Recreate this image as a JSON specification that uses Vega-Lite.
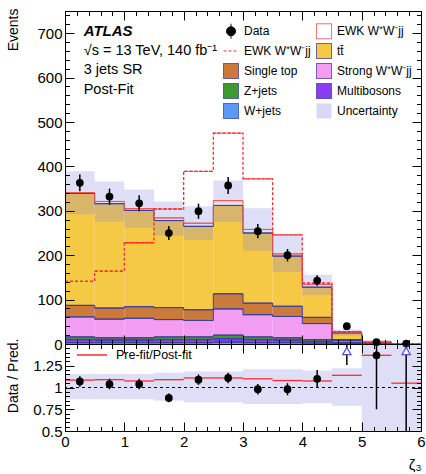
{
  "$schema": "https://vega.github.io/schema/vega-lite/v6.json",
  "background": "white",
  "padding": {"left": 5, "top": 7, "right": 0, "bottom": 0},
  "spacing": 0,
  "bounds": "flush",
  "config": {
    "font": "Liberation Sans",
    "view": {"stroke": "black", "strokeWidth": 1},
    "axis": {"domainColor": "black", "tickColor": "black", "labelColor": "black", "titleColor": "black", "labelFont": "Liberation Sans", "titleFont": "Liberation Sans", "grid": false, "labelFontSize": 15, "titleFontSize": 14, "titleFontWeight": "normal", "tickWidth": 1, "domainWidth": 1},
    "legend": {"labelFont": "Liberation Sans", "labelColor": "black"}
  },
  "datasets": {
    "bins": [
      {"lo": 0, "hi": 0.5, "W+jets": 3, "Multibosons": 7, "Z+jets": 6, "Strong W⁺W⁻jj": 45, "Single top": 26, "tt̄": 252, "EWK W⁺W⁻jj": 2, "sig": 141, "n": 363, "dlo": 344, "dhi": 382, "ulo": 292, "uhi": 389},
      {"lo": 0.5, "hi": 1, "W+jets": 3, "Multibosons": 6, "Z+jets": 5, "Strong W⁺W⁻jj": 42, "Single top": 25, "tt̄": 235, "EWK W⁺W⁻jj": 5, "sig": 164, "n": 332, "dlo": 314, "dhi": 350, "ulo": 276, "uhi": 366},
      {"lo": 1, "hi": 1.5, "W+jets": 3, "Multibosons": 6, "Z+jets": 5, "Strong W⁺W⁻jj": 44, "Single top": 26, "tt̄": 217, "EWK W⁺W⁻jj": 4, "sig": 228, "n": 317, "dlo": 299, "dhi": 335, "ulo": 262, "uhi": 348},
      {"lo": 1.5, "hi": 2, "W+jets": 3, "Multibosons": 7, "Z+jets": 6, "Strong W⁺W⁻jj": 39, "Single top": 27, "tt̄": 196, "EWK W⁺W⁻jj": 6, "sig": 304, "n": 250, "dlo": 234, "dhi": 266, "ulo": 244, "uhi": 321},
      {"lo": 2, "hi": 2.5, "W+jets": 3, "Multibosons": 7, "Z+jets": 6, "Strong W⁺W⁻jj": 37, "Single top": 24, "tt̄": 188, "EWK W⁺W⁻jj": 7, "sig": 389, "n": 299, "dlo": 282, "dhi": 316, "ulo": 234, "uhi": 310},
      {"lo": 2.5, "hi": 3, "W+jets": 4, "Multibosons": 8, "Z+jets": 8, "Strong W⁺W⁻jj": 59, "Single top": 34, "tt̄": 199, "EWK W⁺W⁻jj": 11, "sig": 475, "n": 357, "dlo": 338, "dhi": 376, "ulo": 275, "uhi": 368},
      {"lo": 3, "hi": 3.5, "W+jets": 3, "Multibosons": 7, "Z+jets": 6, "Strong W⁺W⁻jj": 50, "Single top": 26, "tt̄": 158, "EWK W⁺W⁻jj": 8, "sig": 372, "n": 254, "dlo": 238, "dhi": 270, "ulo": 210, "uhi": 306},
      {"lo": 3.5, "hi": 4, "W+jets": 3, "Multibosons": 6, "Z+jets": 5, "Strong W⁺W⁻jj": 48, "Single top": 23, "tt̄": 113, "EWK W⁺W⁻jj": 5, "sig": 246, "n": 200, "dlo": 186, "dhi": 214, "ulo": 162, "uhi": 246},
      {"lo": 4, "hi": 4.5, "W+jets": 2, "Multibosons": 4, "Z+jets": 4, "Strong W⁺W⁻jj": 36, "Single top": 14, "tt̄": 68, "EWK W⁺W⁻jj": 6, "sig": 137, "n": 143, "dlo": 131, "dhi": 155, "ulo": 110, "uhi": 156},
      {"lo": 4.5, "hi": 5, "W+jets": 1, "Multibosons": 2, "Z+jets": 1, "Strong W⁺W⁻jj": 4, "Single top": 2, "tt̄": 15, "EWK W⁺W⁻jj": 2, "sig": 28, "n": 40, "dlo": 34, "dhi": 46, "ulo": 19, "uhi": 33},
      {"lo": 5, "hi": 5.5, "W+jets": 0.3, "Multibosons": 0.5, "Z+jets": 0.5, "Strong W⁺W⁻jj": 1, "Single top": 0.5, "tt̄": 1.2, "EWK W⁺W⁻jj": 0.5, "sig": 3, "n": 4, "dlo": 2, "dhi": 6, "ulo": 0, "uhi": 9},
      {"lo": 5.5, "hi": 6, "W+jets": 0.1, "Multibosons": 0.1, "Z+jets": 0.1, "Strong W⁺W⁻jj": 0.2, "Single top": 0.1, "tt̄": 0.2, "EWK W⁺W⁻jj": 0.2, "sig": 1, "n": 1, "dlo": 0, "dhi": 2, "ulo": 0, "uhi": 3}
    ],
    "ratio": [
      {"lo": 0, "hi": 0.5, "r": 1.07, "rlo": 1.01, "rhi": 1.13, "pf": 1.085, "ulo": 0.865, "uhi": 1.155},
      {"lo": 0.5, "hi": 1, "r": 1.04, "rlo": 0.98, "rhi": 1.1, "pf": 1.09, "ulo": 0.865, "uhi": 1.155},
      {"lo": 1, "hi": 1.5, "r": 1.04, "rlo": 0.98, "rhi": 1.1, "pf": 1.075, "ulo": 0.865, "uhi": 1.155},
      {"lo": 1.5, "hi": 2, "r": 0.88, "rlo": 0.83, "rhi": 0.93, "pf": 1.09, "ulo": 0.85, "uhi": 1.17},
      {"lo": 2, "hi": 2.5, "r": 1.09, "rlo": 1.03, "rhi": 1.15, "pf": 1.11, "ulo": 0.83, "uhi": 1.185},
      {"lo": 2.5, "hi": 3, "r": 1.11, "rlo": 1.05, "rhi": 1.17, "pf": 1.11, "ulo": 0.83, "uhi": 1.185},
      {"lo": 3, "hi": 3.5, "r": 0.98, "rlo": 0.92, "rhi": 1.04, "pf": 1.1, "ulo": 0.81, "uhi": 1.21},
      {"lo": 3.5, "hi": 4, "r": 0.98, "rlo": 0.91, "rhi": 1.05, "pf": 1.08, "ulo": 0.81, "uhi": 1.21},
      {"lo": 4, "hi": 4.5, "r": 1.1, "rlo": 1.0, "rhi": 1.2, "pf": 1.075, "ulo": 0.82, "uhi": 1.195},
      {"lo": 4.5, "hi": 5, "r": 1.6, "rlo": 1.26, "rhi": 2.0, "pf": 1.14, "ulo": 0.79, "uhi": 1.22},
      {"lo": 5, "hi": 5.5, "r": 1.37, "rlo": 0.75, "rhi": 2.2, "pf": 1.37, "ulo": 0.3, "uhi": 1.8},
      {"lo": 5.5, "hi": 6, "r": 2.2, "rlo": 0.2, "rhi": 4, "pf": 1.05, "ulo": 0.3, "uhi": 1.8}
    ]
  },
  "resolve": {
    "scale": {"stroke": "independent", "fill": "independent", "shape": "independent", "strokeDash": "independent"},
    "legend": {"stroke": "independent", "fill": "independent", "shape": "independent", "strokeDash": "independent"}
  },
  "vconcat": [
    {
      "width": 356,
      "height": 333,
      "data": {"name": "bins"},
      "transform": [{"calculate": "(datum.lo + datum.hi) / 2", "as": "mid"}],
      "resolve": {"axis": {"x": "independent", "y": "independent"}},
      "layer": [
        {
          "transform": [
            {"fold": ["W+jets", "Multibosons", "Z+jets", "Strong W⁺W⁻jj", "Single top", "tt̄", "EWK W⁺W⁻jj"], "as": ["key", "v"]},
            {"calculate": "indexof(['W+jets','Multibosons','Z+jets','Strong W⁺W⁻jj','Single top','tt̄','EWK W⁺W⁻jj'], datum.key)", "as": "ord"},
            {"stack": "v", "groupby": ["lo"], "sort": [{"field": "ord"}], "as": ["v0", "v1"]}
          ],
          "mark": {"type": "rect", "strokeWidth": 0},
          "encoding": {
            "x": {"field": "lo", "type": "quantitative", "scale": {"domain": [0, 6], "nice": false, "zero": false},
              "axis": {"orient": "bottom", "values": [0,0.2,0.4,0.6,0.8,1,1.2,1.4,1.6,1.8,2,2.2,2.4,2.6,2.8,3,3.2,3.4,3.6,3.8,4,4.2,4.4,4.6,4.8,5,5.2,5.4,5.6,5.8,6], "labels": false, "title": null, "domain": true, "zindex": 1,
                "tickSize": {"condition": {"test": "abs(datum.value - round(datum.value)) < 1e-6", "value": -9}, "value": -4.5}}},
            "x2": {"field": "hi"},
            "y": {"field": "v0", "type": "quantitative", "scale": {"domain": [0, 750], "nice": false, "zero": false},
              "axis": {"orient": "left", "values": [0,20,40,60,80,100,120,140,160,180,200,220,240,260,280,300,320,340,360,380,400,420,440,460,480,500,520,540,560,580,600,620,640,660,680,700,720,740], "format": "d",
                "labelExpr": "datum.value % 100 === 0 ? datum.label : ''",
                "tickSize": {"condition": {"test": "datum.value % 100 === 0", "value": -9}, "value": -4.5},
                "labelPadding": 12, "labelOverlap": false, "labelFlush": false, "labelBound": false, "domain": true, "zindex": 1,
                "title": "Events", "titleAnchor": "end", "titleAngle": -90, "titleAlign": "right", "titleBaseline": "middle", "titleX": -52, "titleY": -3}},
            "y2": {"field": "v1"},
            "fill": {"field": "key", "type": "nominal",
              "scale": {"domain": ["Data", "EWK W⁺W⁻jj\u200b", "Single top", "Z+jets", "W+jets", "EWK W⁺W⁻jj", "tt̄", "Strong W⁺W⁻jj", "Multibosons", "Uncertainty"],
                "range": ["black", "transparent", "#cc7a3c", "#3d9a2e", "#5a9af5", "white", "#f6c944", "#f29cf2", "#8a3cf0", "#d8d8f5"]},
              "legend": {"orient": "none", "legendX": 158, "legendY": 12, "columns": 2, "columnPadding": 3, "rowPadding": 0, "title": null, "labelFontSize": 12, "labelOffset": 5, "symbolSize": 225, "symbolStrokeWidth": 1, "padding": 0, "labelLimit": 200}}
          }
        },
        {
          "mark": {"type": "rect", "fill": "#7b7be0", "fillOpacity": 0.25},
          "encoding": {
            "x": {"field": "lo", "type": "quantitative", "axis": null},
            "x2": {"field": "hi"},
            "y": {"field": "ulo", "type": "quantitative", "axis": null},
            "y2": {"field": "uhi"}
          }
        },
        {
          "transform": [
            {"fold": ["W+jets", "Multibosons", "Z+jets", "Strong W⁺W⁻jj", "Single top", "tt̄", "EWK W⁺W⁻jj"], "as": ["key", "v"]},
            {"calculate": "indexof(['W+jets','Multibosons','Z+jets','Strong W⁺W⁻jj','Single top','tt̄','EWK W⁺W⁻jj'], datum.key)", "as": "ord"},
            {"stack": "v", "groupby": ["lo"], "sort": [{"field": "ord"}], "as": ["v0", "v1"]}
          ],
          "mark": {"type": "rule", "strokeWidth": 1},
          "encoding": {
            "x": {"field": "lo", "type": "quantitative", "axis": null},
            "x2": {"field": "hi"},
            "y": {"field": "v1", "type": "quantitative", "axis": null},
            "stroke": {"condition": {"test": "datum.key === 'EWK W⁺W⁻jj'", "value": "#f25555"}, "value": "#3d3d9c"}
          }
        },
        {
          "transform": [
            {"fold": ["W+jets", "Multibosons", "Z+jets", "Strong W⁺W⁻jj", "Single top", "tt̄", "EWK W⁺W⁻jj"], "as": ["key", "v"]},
            {"calculate": "indexof(['W+jets','Multibosons','Z+jets','Strong W⁺W⁻jj','Single top','tt̄','EWK W⁺W⁻jj'], datum.key)", "as": "ord"},
            {"stack": "v", "groupby": ["lo"], "sort": [{"field": "ord"}], "as": ["v0", "v1"]}
          ],
          "mark": {"type": "line", "interpolate": "step-after", "strokeWidth": 1},
          "encoding": {
            "x": {"field": "lo", "type": "quantitative", "axis": null},
            "y": {"field": "v1", "type": "quantitative", "axis": null},
            "detail": {"field": "key"},
            "stroke": {"condition": {"test": "datum.key === 'EWK W⁺W⁻jj'", "value": "#f25555"}, "value": "#3d3d9c"}
          }
        },
        {
          "mark": {"type": "rule", "stroke": "#f23030", "strokeDash": [3, 2], "strokeWidth": 1.3},
          "encoding": {
            "x": {"field": "lo", "type": "quantitative",
              "axis": {"orient": "top", "values": [0,0.2,0.4,0.6,0.8,1,1.2,1.4,1.6,1.8,2,2.2,2.4,2.6,2.8,3,3.2,3.4,3.6,3.8,4,4.2,4.4,4.6,4.8,5,5.2,5.4,5.6,5.8,6], "labels": false, "title": null, "domain": true, "zindex": 1,
                "tickSize": {"condition": {"test": "abs(datum.value - round(datum.value)) < 1e-6", "value": -9}, "value": -4.5}}},
            "x2": {"field": "hi"},
            "y": {"field": "sig", "type": "quantitative",
              "axis": {"orient": "right", "values": [0,20,40,60,80,100,120,140,160,180,200,220,240,260,280,300,320,340,360,380,400,420,440,460,480,500,520,540,560,580,600,620,640,660,680,700,720,740], "labels": false, "title": null, "domain": true, "zindex": 1,
                "tickSize": {"condition": {"test": "datum.value % 100 === 0", "value": -9}, "value": -4.5}}}
          }
        },
        {
          "mark": {"type": "line", "interpolate": "step-after", "stroke": "#f23030", "strokeDash": [3, 2], "strokeWidth": 1.3},
          "encoding": {
            "x": {"field": "lo", "type": "quantitative", "axis": null},
            "y": {"field": "sig", "type": "quantitative", "axis": null}
          }
        },
        {
          "mark": {"type": "rule", "stroke": "black", "strokeWidth": 1.5},
          "encoding": {
            "x": {"field": "mid", "type": "quantitative", "axis": null},
            "y": {"field": "dlo", "type": "quantitative", "axis": null},
            "y2": {"field": "dhi"}
          }
        },
        {
          "mark": {"type": "point", "shape": "circle", "filled": true, "fill": "black", "opacity": 1, "size": 60},
          "encoding": {
            "x": {"field": "mid", "type": "quantitative", "axis": null},
            "y": {"field": "n", "type": "quantitative", "axis": null}
          }
        },
        {
          "data": {"values": [{"key": "Data"}]},
          "transform": [{"filter": "false"}],
          "mark": {"type": "point", "filled": true, "opacity": 1},
          "encoding": {
            "fill": {"field": "key", "type": "nominal",
              "scale": {"domain": ["Data", "EWK W⁺W⁻jj\u200b", "Single top", "Z+jets", "W+jets", "EWK W⁺W⁻jj", "tt̄", "Strong W⁺W⁻jj", "Multibosons", "Uncertainty"],
                "range": ["black", "transparent", "#cc7a3c", "#3d9a2e", "#5a9af5", "white", "#f6c944", "#f29cf2", "#8a3cf0", "#d8d8f5"]}},
            "stroke": {"field": "key", "type": "nominal",
              "scale": {"domain": ["Data", "EWK W⁺W⁻jj\u200b", "Single top", "Z+jets", "W+jets", "EWK W⁺W⁻jj", "tt̄", "Strong W⁺W⁻jj", "Multibosons", "Uncertainty"],
                "range": ["black", "#f23030", "#3d3d9c", "#3d3d9c", "#3d3d9c", "#f25555", "#3d3d9c", "#3d3d9c", "#3d3d9c", "transparent"]}},
            "shape": {"field": "key", "type": "nominal",
              "scale": {"domain": ["Data", "EWK W⁺W⁻jj\u200b", "Single top", "Z+jets", "W+jets", "EWK W⁺W⁻jj", "tt̄", "Strong W⁺W⁻jj", "Multibosons", "Uncertainty"],
                "range": ["M-0.6,0A0.6,0.6 0 1,0 0.6,0A0.6,0.6 0 1,0 -0.6,0ZM0,-1L0,1", "stroke", "square", "square", "square", "square", "square", "square", "square", "square"]}},
            "strokeDash": {"field": "key", "type": "nominal",
              "scale": {"domain": ["Data", "EWK W⁺W⁻jj\u200b", "Single top", "Z+jets", "W+jets", "EWK W⁺W⁻jj", "tt̄", "Strong W⁺W⁻jj", "Multibosons", "Uncertainty"],
                "range": [[1, 0], [3, 2], [1, 0], [1, 0], [1, 0], [1, 0], [1, 0], [1, 0], [1, 0], [1, 0]]}}
          }
        },
        {
          "data": {"values": [{}]},
          "mark": {"type": "text", "text": "ATLAS", "fontSize": 15, "fontStyle": "italic", "fontWeight": "bold", "align": "left", "baseline": "middle", "color": "black"},
          "encoding": {"x": {"datum": 0.315, "type": "quantitative", "axis": null}, "y": {"datum": 706, "type": "quantitative", "axis": null}}
        },
        {
          "data": {"values": [{}]},
          "mark": {"type": "text", "text": "√s = 13 TeV, 140 fb⁻¹", "fontSize": 14.5, "align": "left", "baseline": "middle", "color": "black"},
          "encoding": {"x": {"datum": 0.315, "type": "quantitative", "axis": null}, "y": {"datum": 659, "type": "quantitative", "axis": null}}
        },
        {
          "data": {"values": [{}]},
          "mark": {"type": "text", "text": "3 jets SR", "fontSize": 14.5, "align": "left", "baseline": "middle", "color": "black"},
          "encoding": {"x": {"datum": 0.315, "type": "quantitative", "axis": null}, "y": {"datum": 616, "type": "quantitative", "axis": null}}
        },
        {
          "data": {"values": [{}]},
          "mark": {"type": "text", "text": "Post-Fit", "fontSize": 14.5, "align": "left", "baseline": "middle", "color": "black"},
          "encoding": {"x": {"datum": 0.315, "type": "quantitative", "axis": null}, "y": {"datum": 573, "type": "quantitative", "axis": null}}
        }
      ]
    },
    {
      "width": 356,
      "height": 87,
      "data": {"name": "ratio"},
      "transform": [{"calculate": "(datum.lo + datum.hi) / 2", "as": "mid"}],
      "resolve": {"axis": {"x": "independent", "y": "independent"}},
      "layer": [
        {
          "mark": {"type": "rect", "fill": "#7b7be0", "fillOpacity": 0.25, "clip": true},
          "encoding": {
            "x": {"field": "lo", "type": "quantitative", "scale": {"domain": [0, 6], "nice": false, "zero": false},
              "axis": {"orient": "bottom", "values": [0,0.2,0.4,0.6,0.8,1,1.2,1.4,1.6,1.8,2,2.2,2.4,2.6,2.8,3,3.2,3.4,3.6,3.8,4,4.2,4.4,4.6,4.8,5,5.2,5.4,5.6,5.8,6], "format": "~g",
                "labelExpr": "abs(datum.value - round(datum.value)) < 1e-6 ? datum.label : ''",
                "tickSize": {"condition": {"test": "abs(datum.value - round(datum.value)) < 1e-6", "value": -9}, "value": -4.5},
                "labelPadding": 12, "labelOverlap": false, "labelFlush": false, "labelBound": false, "domain": true, "zindex": 1,
                "title": "ζ₃", "titleFontSize": 15, "titleAnchor": "end", "titleAlign": "right", "titleBaseline": "alphabetic", "titleX": 356, "titleY": 38}},
            "x2": {"field": "hi"},
            "y": {"field": "ulo", "type": "quantitative", "scale": {"domain": [0.5, 1.5], "nice": false, "zero": false},
              "axis": {"orient": "left", "values": [0.5,0.55,0.6,0.65,0.7,0.75,0.8,0.85,0.9,0.95,1,1.05,1.1,1.15,1.2,1.25,1.3,1.35,1.4,1.45,1.5], "format": "~g",
                "labelExpr": "(abs(datum.value*4 - round(datum.value*4)) < 1e-6 && datum.value < 1.4) ? datum.label : ''",
                "tickSize": {"condition": {"test": "abs(datum.value*4 - round(datum.value*4)) < 1e-6", "value": -9}, "value": -4.5},
                "labelPadding": 12, "labelOverlap": false, "labelFlush": false, "labelBound": false, "domain": true, "zindex": 1,
                "title": "Data / Pred.", "titleAnchor": "end", "titleAngle": -90, "titleAlign": "right", "titleBaseline": "middle", "titleX": -52, "titleY": -6}},
            "y2": {"field": "uhi"}
          }
        },
        {
          "data": {"values": [{}]},
          "mark": {"type": "rule", "stroke": "black", "strokeDash": [3, 3], "strokeWidth": 1},
          "encoding": {"y": {"datum": 1, "type": "quantitative", "axis": null}}
        },
        {
          "mark": {"type": "rule", "strokeWidth": 1.3},
          "encoding": {
            "x": {"field": "lo", "type": "quantitative",
              "axis": {"orient": "top", "values": [0,0.2,0.4,0.6,0.8,1,1.2,1.4,1.6,1.8,2,2.2,2.4,2.6,2.8,3,3.2,3.4,3.6,3.8,4,4.2,4.4,4.6,4.8,5,5.2,5.4,5.6,5.8,6], "labels": false, "title": null, "domain": true, "zindex": 1,
                "tickSize": {"condition": {"test": "abs(datum.value - round(datum.value)) < 1e-6", "value": -9}, "value": -4.5}}},
            "x2": {"field": "hi"},
            "y": {"field": "pf", "type": "quantitative",
              "axis": {"orient": "right", "values": [0.5,0.55,0.6,0.65,0.7,0.75,0.8,0.85,0.9,0.95,1,1.05,1.1,1.15,1.2,1.25,1.3,1.35,1.4,1.45,1.5], "labels": false, "title": null, "domain": true, "zindex": 1,
                "tickSize": {"condition": {"test": "abs(datum.value*4 - round(datum.value*4)) < 1e-6", "value": -9}, "value": -4.5}}},
            "stroke": {"datum": "Pre-fit/Post-fit", "type": "nominal", "scale": {"range": ["#ff2a2a"]},
              "legend": {"orient": "none", "legendX": 11, "legendY": -5, "title": null, "symbolType": "stroke", "symbolSize": 900, "symbolStrokeWidth": 1.5, "labelFontSize": 12.5, "labelOffset": 8, "padding": 0}}
          }
        },
        {
          "mark": {"type": "rule", "stroke": "black", "strokeWidth": 1.5, "clip": true},
          "encoding": {
            "x": {"field": "mid", "type": "quantitative", "axis": null},
            "y": {"field": "rlo", "type": "quantitative", "axis": null},
            "y2": {"field": "rhi"}
          }
        },
        {
          "mark": {"type": "point", "shape": "circle", "filled": true, "fill": "black", "opacity": 1, "size": 60, "clip": true},
          "encoding": {
            "x": {"field": "mid", "type": "quantitative", "axis": null},
            "y": {"field": "r", "type": "quantitative", "axis": null}
          }
        },
        {
          "transform": [{"filter": "datum.r > 1.5"}],
          "mark": {"type": "point", "shape": "triangle-up", "filled": true, "fill": "white", "stroke": "#5050e0", "strokeWidth": 1.2, "opacity": 1, "size": 70},
          "encoding": {
            "x": {"field": "mid", "type": "quantitative", "axis": null},
            "y": {"datum": 1.42, "type": "quantitative", "axis": null}
          }
        }
      ]
    }
  ]
}
